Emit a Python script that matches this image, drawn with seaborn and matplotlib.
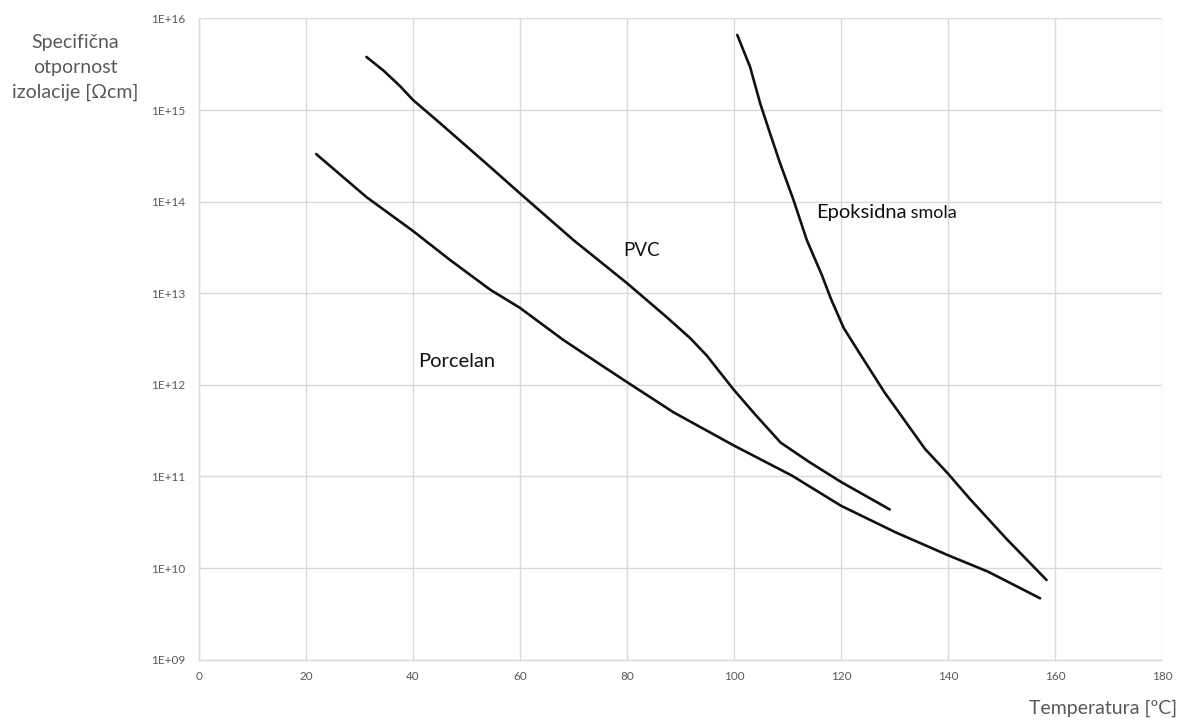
import numpy as np
import pandas as pd
import matplotlib
matplotlib.use('Agg')
import matplotlib.pyplot as plt
import seaborn as sns
from matplotlib.ticker import FixedLocator, FuncFormatter, NullLocator

# values (temperature in degC, log10 of resistivity)
porcelan_t = [21.9, 31.3, 40.0, 47.0, 54.4, 60.0, 68.1, 74.8, 80.0, 88.7, 99.9,
              110.8, 120.0, 130.2, 140.0, 147.5, 157.2]
porcelan_log = [14.52, 14.05, 13.68, 13.36, 13.04, 12.84, 12.49, 12.23, 12.03,
                11.70, 11.34, 11.01, 10.68, 10.39, 10.14, 9.96, 9.67]

pvc_t = [31.3, 34.5, 37.6, 40.0, 45.0, 54.4, 60.0, 70.0, 80.0, 87.4, 91.8, 94.9,
         99.9, 103.9, 108.7, 114.0, 120.0, 129.1]
pvc_log = [15.58, 15.43, 15.26, 15.11, 14.86, 14.38, 14.09, 13.58, 13.11, 12.74,
           12.51, 12.32, 11.95, 11.68, 11.37, 11.16, 10.94, 10.64]

epoksi_t = [100.6, 103.0, 104.9, 106.7, 108.6, 111.1, 113.6, 116.4, 118.1, 120.5,
            123.3, 128.1, 135.7, 140.0, 144.0, 150.9, 158.4]
epoksi_log = [15.82, 15.47, 15.07, 14.75, 14.42, 14.02, 13.58, 13.20, 12.94, 12.62,
              12.36, 11.92, 11.30, 11.03, 10.76, 10.32, 9.87]

x_ticks = [0, 20, 40, 60, 80, 100, 120, 140, 160, 180]
y_exps = [9, 10, 11, 12, 13, 14, 15, 16]

frames = []
for name, t, lg in [('Porcelan', porcelan_t, porcelan_log),
                    ('PVC', pvc_t, pvc_log),
                    ('Epoksidna smola', epoksi_t, epoksi_log)]:
    frames.append(pd.DataFrame({'t': t, 'r': 10.0 ** np.array(lg), 'mat': name}))
df = pd.concat(frames, ignore_index=True)

sns.set_style('white')
plt.rcParams['font.family'] = ['Lato', 'DejaVu Sans']

fig = plt.figure(figsize=(11.81, 7.27), dpi=100)
ax = fig.add_axes([0.1685, 0.0926, 0.8155, 0.882])

sns.lineplot(data=df, x='t', y='r', hue='mat', units='mat', estimator=None,
             palette=['#111111'] * 3, linewidth=1.9, legend=False, sort=False, ax=ax)

ax.set_yscale('log')
ax.set_xlim(0, 180)
ax.set_ylim(1e9, 1e16)
ax.xaxis.set_major_locator(FixedLocator(x_ticks))
ax.yaxis.set_major_locator(FixedLocator([10.0 ** e for e in y_exps]))
ax.yaxis.set_minor_locator(NullLocator())
ax.yaxis.set_major_formatter(FuncFormatter(lambda v, p: '1E+%02d' % round(np.log10(v))))

ax.grid(True, color='#d9d9d9', linewidth=1)
for s in ['top', 'right']:
    ax.spines[s].set_visible(False)
for s in ['left', 'bottom']:
    ax.spines[s].set_color('#d9d9d9')
    ax.spines[s].set_linewidth(1)
ax.tick_params(axis='both', length=0, labelsize=8.5, colors='#595959')
ax.tick_params(axis='y', pad=10)
ax.tick_params(axis='x', pad=8)
ax.set_xlabel('')
ax.set_ylabel('')

fig.text(0.064, 0.953, 'Specifična\notpornost\nizolacije [Ωcm]', ha='center', va='top',
         fontsize=14, color='#595959', linespacing=1.55)
fig.text(0.9966, 0.026, 'Temperatura [ºC]', ha='right', va='center',
         fontsize=14, color='#595959')

ax.text(79.2, 10 ** 13.47, 'PVC', ha='left', va='center', fontsize=13.5, color='#111111')
ax.text(40.9, 10 ** 12.26, 'Porcelan', ha='left', va='center', fontsize=14.5,
        color='#111111')
t1 = ax.text(115.3, 10 ** 13.88, 'Epoksidna', ha='left', va='center', fontsize=14.5,
             color='#111111')
ax.annotate(' smola', xy=(1, 0.5), xycoords=t1, ha='left', va='center',
            fontsize=13, color='#111111')

fig.savefig('out.png', dpi=100)
